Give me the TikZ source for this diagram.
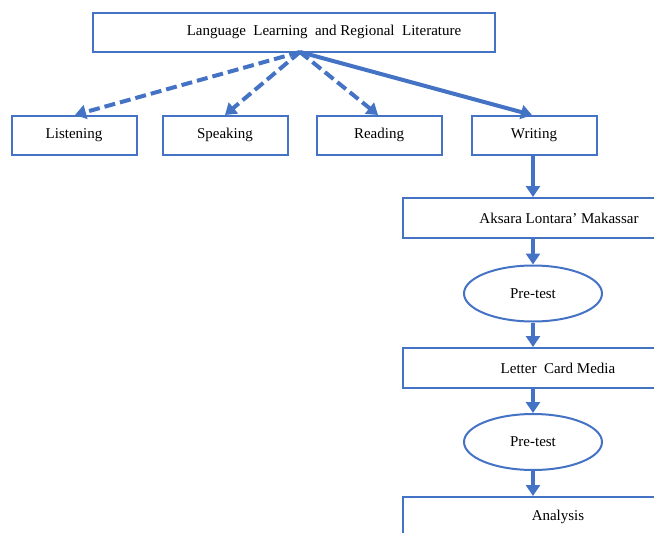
\documentclass[tikz,border=0pt]{standalone}
\usepackage{fontspec}
\setmainfont{Liberation Serif}
\usetikzlibrary{arrows.meta,shapes.geometric}
\definecolor{bl}{HTML}{4472C4}
\begin{document}
\begin{tikzpicture}[x=1pt,y=-1pt,
  font=\fontsize{15}{18}\selectfont,
  box/.style={draw=bl, line width=2pt, fill=white, rectangle, inner sep=0pt, minimum height=39pt},
  oval/.style={draw=bl, line width=2pt, fill=white, ellipse, inner sep=0pt, minimum width=138pt, minimum height=56pt},
  arr/.style={draw=bl, line width=4pt, -{Triangle[width=14pt,length=11pt]}},
  darr/.style={arr, dash pattern=on 11pt off 5pt}]
\useasboundingbox (0,0) rectangle (654,533);
\clip (0,0) rectangle (654,533);
\fill[white] (0,0) rectangle (654,533);

\node[box, minimum width=402pt] (top) at (294,32) {\hspace*{60pt}Language~ Learning~ and Regional~ Literature};
\coordinate (src) at (300,52);

\node[box, minimum width=125pt] (lis) at (74,135) {Listening};
\node[box, minimum width=125pt] (spe) at (225,135) {Speaking};
\node[box, minimum width=125pt] (rea) at (379,135) {Reading};
\node[box, minimum width=125pt] (wri) at (534,135) {Writing};

\node[box, minimum width=260pt, minimum height=40pt] (aks) at (533,218) {\hspace*{52pt}Aksara Lontara’ Makassar};
\node[oval] (pre1) at (533,293.5) {Pre-test};
\node[box, minimum width=260pt, minimum height=40pt] (lcm) at (533,368) {\hspace*{50pt}Letter~ Card Media};
\node[oval] (pre2) at (533,442) {Pre-test};
\node[box, minimum width=260pt, minimum height=40pt] (ana) at (533,517) {\hspace*{50pt}Analysis};

\draw[darr] (src) -- (75,115);
\draw[darr] (src) -- (225,115);
\draw[darr] (src) -- (378,115);
\draw[arr] (src) -- (532,115);

\draw[arr] (wri.south -| 533,0) -- (aks.north);
\draw[arr] (aks.south) -- (pre1.north);
\draw[arr] (pre1.south) -- (lcm.north);
\draw[arr] (lcm.south) -- (pre2.north);
\draw[arr] (pre2.south) -- (ana.north);
\end{tikzpicture}
\end{document}
